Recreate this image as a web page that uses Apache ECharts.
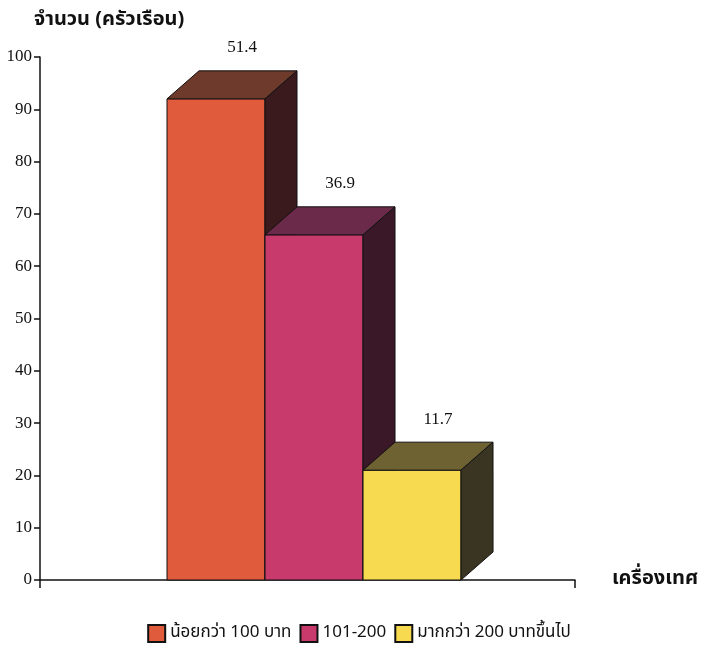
<!DOCTYPE html>
<html><head><meta charset="utf-8">
<script src="https://cdn.jsdelivr.net/npm/echarts@6/dist/echarts.min.js"></script>
<style>html,body{margin:0;padding:0;background:#fff}#c{width:718px;height:657px}</style>
</head><body><div id="c"></div>
<script>
const seriesNames = ['น้อยกว่า 100 บาท', '101-200', 'มากกว่า 200 บาทขึ้นไป'];
const values = [92, 66, 21];
const percentLabels = ['51.4', '36.9', '11.7'];
const yTicks = [0, 10, 20, 30, 40, 50, 60, 70, 80, 90, 100];
const yAxisTitle = 'จำนวน (ครัวเรือน)';
const xAxisTitle = 'เครื่องเทศ';

const frontColors = ['#E05A3C', '#C93A6C', '#F7DA50'];
const topColors = ['#6E3A2C', '#6C2A4A', '#6E6232'];
const sideColors = ['#3A1A1C', '#3A1828', '#3A3522'];
const DX = 32, DY = -28;
const serif = '"Liberation Serif","DejaVu Serif",serif';
const thai = '"Noto Sans Thai","Noto Serif Thai","Loma","Garuda","Noto Sans",sans-serif';

const chart = echarts.init(document.getElementById('c'));
const XMIN = -1.296, XMAX = 4.163;

function renderBar(params, api) {
  const i = api.value(0), v = api.value(1);
  const si = params.seriesIndex;
  const p0 = api.coord([i, 0]);
  const p1 = api.coord([i + 1, v]);
  const x0 = p0[0], x1 = p1[0], yb = p0[1], yt = p1[1];
  const ls = {stroke: '#111', lineWidth: 1};
  return {
    type: 'group',
    children: [
      {type: 'rect', shape: {x: x0, y: yt, width: x1 - x0, height: yb - yt}, style: Object.assign({fill: frontColors[si]}, ls)},
      {type: 'polygon', shape: {points: [[x0, yt], [x0 + DX, yt + DY], [x1 + DX, yt + DY], [x1, yt]]}, style: Object.assign({fill: topColors[si]}, ls)},
      {type: 'polygon', shape: {points: [[x1, yt], [x1 + DX, yt + DY], [x1 + DX, yb + DY], [x1, yb]]}, style: Object.assign({fill: sideColors[si]}, ls)},
      {type: 'text', style: {x: (x0 + x1) / 2 + DX - 6, y: yt + DY - 23, text: percentLabels[si], fill: '#111', font: '17px ' + serif, align: 'center', verticalAlign: 'middle'}}
    ]
  };
}

const series = seriesNames.map((name, k) => ({
  type: 'custom',
  name: name,
  renderItem: renderBar,
  itemStyle: {color: frontColors[k], borderColor: '#111', borderWidth: 1},
  encode: {x: 0, y: 1},
  data: [[k, values[k]]]
}));

chart.setOption({
  animation: false,
  grid: {left: 40, right: 143, top: 57, bottom: 77},
  legend: {
    bottom: 9, left: 'center',
    itemWidth: 17, itemHeight: 17, itemGap: 8,
    icon: 'rect',
    textStyle: {fontFamily: thai, fontSize: 17, color: '#111'},
    data: seriesNames
  },
  xAxis: {
    type: 'value', min: XMIN, max: XMAX,
    name: xAxisTitle, nameLocation: 'end', nameGap: 37,
    nameTextStyle: {fontFamily: thai, fontSize: 20, fontWeight: 'bold', color: '#111', verticalAlign: 'middle'},
    axisLine: {show: true, onZero: false, lineStyle: {color: '#111', width: 1.5}},
    axisTick: {show: true, customValues: [XMIN, XMAX], length: 8, inside: false, lineStyle: {color: '#111', width: 1.5}},
    axisLabel: {show: false},
    splitLine: {show: false}
  },
  yAxis: {
    type: 'value', min: 0, max: 100, interval: 10,
    name: yAxisTitle, nameLocation: 'end', nameGap: 26,
    nameTextStyle: {fontFamily: thai, fontSize: 20, fontWeight: 'bold', color: '#111', align: 'left', padding: [0, 0, 0, -6]},
    axisLine: {show: true, onZero: false, lineStyle: {color: '#111', width: 1.5}},
    axisTick: {show: true, length: 6, lineStyle: {color: '#111', width: 1.5}},
    axisLabel: {fontFamily: serif, fontSize: 17, color: '#111', margin: 8,
      formatter: v => yTicks.indexOf(v) >= 0 ? String(v) : ''},
    splitLine: {show: false}
  },
  series: series
});
</script></body></html>
